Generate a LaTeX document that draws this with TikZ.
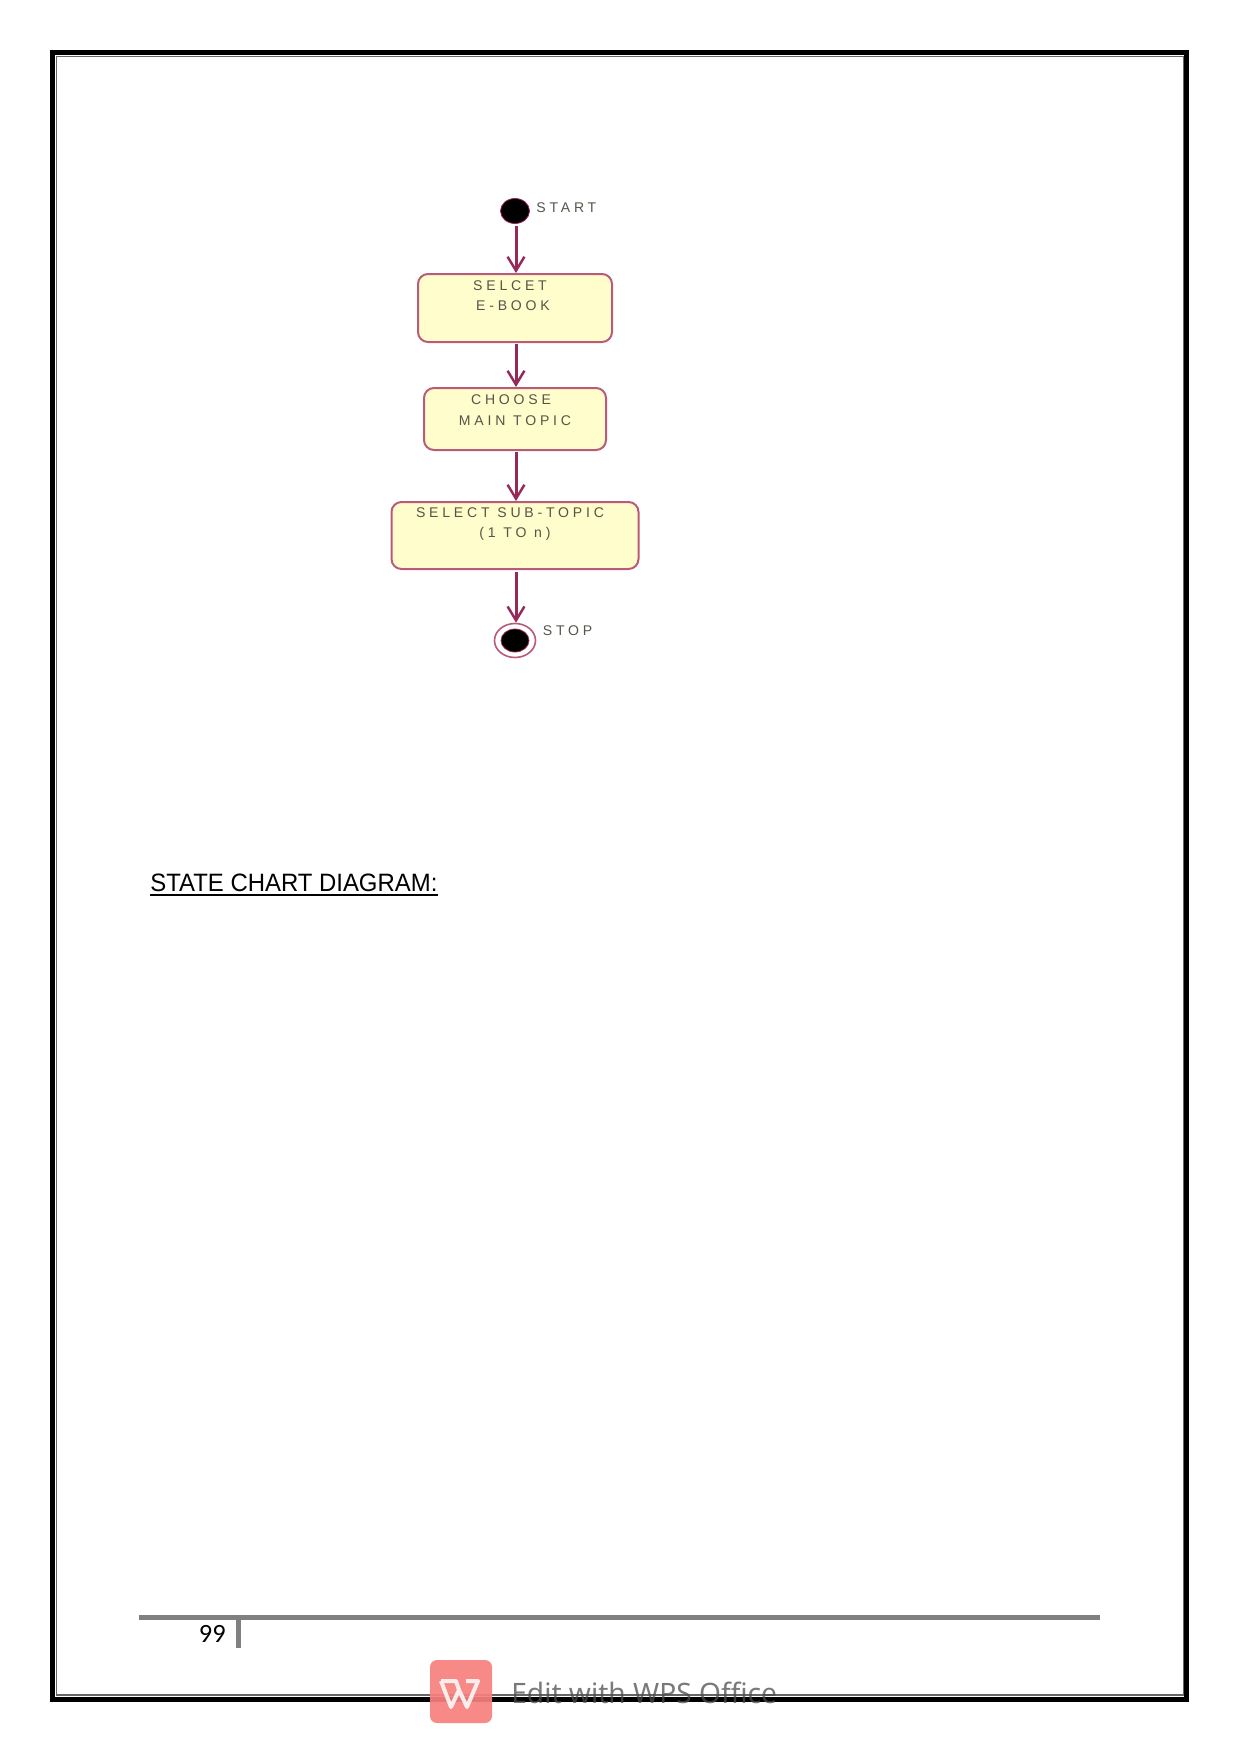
\documentclass[tikz,border=0pt]{standalone}
\usepackage{fontspec}
\usetikzlibrary{arrows.meta,shapes.geometric}
\setmainfont{Liberation Sans}
\newfontfamily\statefont[LetterSpace=27]{Liberation Sans}
\newfontfamily\headfont[FakeStretch=0.952]{Liberation Sans}
\newfontfamily\pagefont{Carlito}
\newfontfamily\markfont{Noto Sans}
\newlength{\px}
\setlength{\px}{0.02cm}
\definecolor{flowred}{HTML}{96285A}
\definecolor{edgered}{HTML}{B85A78}
\definecolor{boxfill}{HTML}{FFFDCB}
\definecolor{statetext}{HTML}{55554A}
\definecolor{rulegray}{HTML}{808080}
\definecolor{markred}{HTML}{F6807E}
\begin{document}
\begin{tikzpicture}[x=0.02cm,y=-0.02cm]
		\tikzstyle{block} = [rectangle,rounded corners=10\px,draw=edgered,line width=2\px,fill=boxfill,inner sep=0pt,align=center,text=statetext,font=\statefont\fontsize{8}{11.5}\selectfont]
		\tikzstyle{dot} = [ellipse,inner sep=0pt,fill=black,draw=flowred,line width=0.8\px]
		\tikzstyle{tag} = [inner sep=0pt,text=statetext,font=\statefont\fontsize{8}{11.5}\selectfont]
		\tikzstyle{flow} = [draw=flowred,line width=3\px,-{Straight Barb[length=7.9pt,width=9.6pt,line width=1.4pt]}]
		\useasboundingbox (0,0) rectangle (1241,1754);
		% page frame
		\draw[line width=5\px] (52.5,52.5) rectangle (1186.5,1699);
		\draw[line width=1.3\px,black!60] (56.5,56.5) rectangle (1183.5,1695);
		% states
		\node[dot,minimum width=29\px,minimum height=25\px](start)at (515,211){};
		\node[tag,anchor=west](starttag)at (536,208){START};
		\node[block,minimum width=194\px,minimum height=68\px](selectbook)at (515,308){SELCET\kern 10\px\\E-BOOK\kern 4\px\\[4.5\px]\mbox{}};
		\node[block,minimum width=182\px,minimum height=62\px](choosetopic)at (515,419){CHOOSE\kern 8\px\\MAIN TOPIC\\[-2.2\px]\mbox{}};
		\node[block,minimum width=247\px,minimum height=67\px](selectsub)at (515,535.5){SELECT SUB-TOPIC\kern 10\px\\(1 TO n)\\[6\px]\mbox{}};
		\node[ellipse,inner sep=0pt,draw=edgered,line width=1.6\px,fill=white,minimum width=41\px,minimum height=34\px](stop)at (515,640.5){};
		\node[dot,minimum width=28\px,minimum height=23\px](stopdot)at (stop.center){};
		\node[tag,anchor=west](stoptag)at (542.5,631){STOP};
		\path ([xshift=1\px,yshift=-2\px]start.south) edge[flow] ([xshift=1\px]selectbook.north)
		([xshift=1\px,yshift=-1\px]selectbook.south) edge[flow] ([xshift=1\px]choosetopic.north)
		([xshift=1\px,yshift=-1\px]choosetopic.south) edge[flow] ([xshift=1\px]selectsub.north)
		([xshift=1\px,yshift=-2\px]selectsub.south) edge[flow] ([xshift=1\px]stop.north);
		% heading
		\node[inner sep=0pt,anchor=base west,font=\headfont\fontsize{14.3}{16}\selectfont](heading)at (150,891){STATE CHART DIAGRAM:};
		\draw[line width=2\px] ([yshift=-4\px]heading.base west) -- ([yshift=-4\px]heading.base east);
		% footer
		\draw[rulegray,line width=5\px] (139,1617) -- (1100,1617);
		\draw[rulegray,line width=4.5\px] (238.5,1617) -- (238.5,1648);
		\node[inner sep=0pt,anchor=base east,font=\pagefont\fontsize{15}{17}\selectfont](pagenum)at (226,1642){99};
		% watermark
		\fill[markred,opacity=0.93,rounded corners=7\px] (430,1660) rectangle (492,1723);
		\draw[white,opacity=0.85,line width=4\px,line join=round] (441,1681) -- (451,1707) -- (459,1690) -- (467,1707) -- (478,1681) -- (466,1681)
		(441,1681) -- (456,1681) -- (459,1690);
		\node[inner sep=0pt,anchor=base west,opacity=0.75,text=black!70,font=\markfont\fontsize{16}{18}\selectfont](wpsmark)at (511,1703){Edit with WPS Office};
		\end{tikzpicture}
\end{document}
